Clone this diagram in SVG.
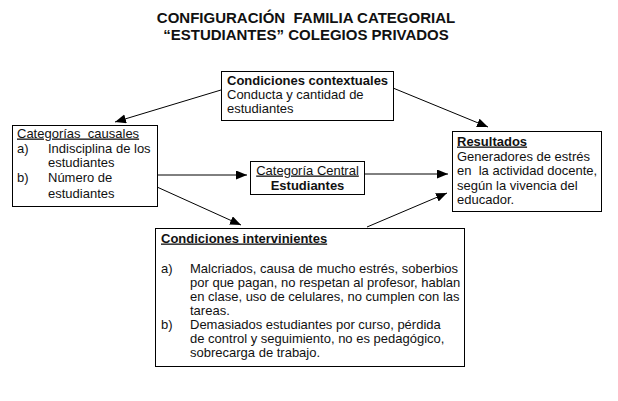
<svg xmlns="http://www.w3.org/2000/svg" width="618" height="401" viewBox="0 0 618 401">
<style>
text{font-family:"Liberation Sans",Arial,sans-serif;font-size:13px;fill:#111;white-space:pre}
.b{font-weight:bold}
.u{text-decoration:underline}
.t{font-size:15px;font-weight:bold;text-anchor:middle}
.box{fill:#fff;stroke:#000;stroke-width:1}
.c line{stroke:#000;stroke-width:1}
</style>
<defs>
<marker id="ah" markerUnits="userSpaceOnUse" markerWidth="12" markerHeight="10" refX="11" refY="4.5" orient="auto">
<path d="M0,0 L11,4.5 L0,9 z" fill="#000"/>
</marker>
</defs>
<rect width="618" height="401" fill="#fff"/>
<g id="title">
<text class="t" x="306" y="23">CONFIGURACIÓN  FAMILIA CATEGORIAL</text>
<text class="t" x="306" y="40">“ESTUDIANTES” COLEGIOS PRIVADOS</text>
</g>
<g id="connectors" class="c" marker-end="url(#ah)">
<line x1="221" y1="90" x2="115" y2="122" marker-end="url(#ah)"/>
<line x1="393" y1="88" x2="488" y2="127" marker-end="url(#ah)"/>
<line x1="157" y1="175" x2="247" y2="175" marker-end="url(#ah)"/>
<line x1="364" y1="174" x2="448" y2="174" marker-end="url(#ah)"/>
<line x1="157" y1="187" x2="241" y2="225" marker-end="url(#ah)"/>
<line x1="367" y1="227" x2="447" y2="193" marker-end="url(#ah)"/>
</g>
<g id="contextuales">
<rect class="box" x="221.5" y="71.5" width="172" height="49"/>
<text class="b" x="227" y="84.5">Condiciones contextuales</text>
<text x="227" y="98.5">Conducta y cantidad de</text>
<text x="227" y="112.5">estudiantes</text>
</g>
<g id="causales">
<rect class="box" x="12.5" y="125.5" width="145" height="81"/>
<text class="u" x="17" y="137.5">Categorías  causales</text>
<text x="17" y="152.5">a)</text>
<text x="48" y="152.5">Indisciplina de los</text>
<text x="48" y="166.5">estudiantes</text>
<text x="17" y="181.5">b)</text>
<text x="48" y="181.5">Número de</text>
<text x="48" y="197.5">estudiantes</text>
</g>
<g id="central">
<rect class="box" x="250.5" y="161.5" width="114" height="33"/>
<text class="u" x="307.5" y="174.5" text-anchor="middle">Categoría Central</text>
<text class="b" x="307.5" y="189.5" text-anchor="middle">Estudiantes</text>
</g>
<g id="resultados">
<rect class="box" x="452.5" y="131.5" width="149" height="80"/>
<text class="b u" x="457" y="145.5">Resultados</text>
<text x="457" y="160.5">Generadores de estrés</text>
<text x="457" y="174.5">en  la actividad docente,</text>
<text x="457" y="189.5">según la vivencia del</text>
<text x="457" y="203.5">educador.</text>
</g>
<g id="intervinientes">
<rect class="box" x="155.5" y="228.5" width="309" height="138"/>
<text class="b u" x="161" y="242.5">Condiciones intervinientes</text>
<text x="161" y="272.5">a)</text>
<text x="190" y="272.5">Malcriados, causa de mucho estrés, soberbios</text>
<text x="190" y="286.5">por que pagan, no respetan al profesor, hablan</text>
<text x="190" y="300.5">en clase, uso de celulares, no cumplen con las</text>
<text x="190" y="314.5">tareas.</text>
<text x="161" y="328.5">b)</text>
<text x="190" y="328.5">Demasiados estudiantes por curso, pérdida</text>
<text x="190" y="342.5">de control y seguimiento, no es pedagógico,</text>
<text x="190" y="356.5">sobrecarga de trabajo.</text>
</g>
</svg>
